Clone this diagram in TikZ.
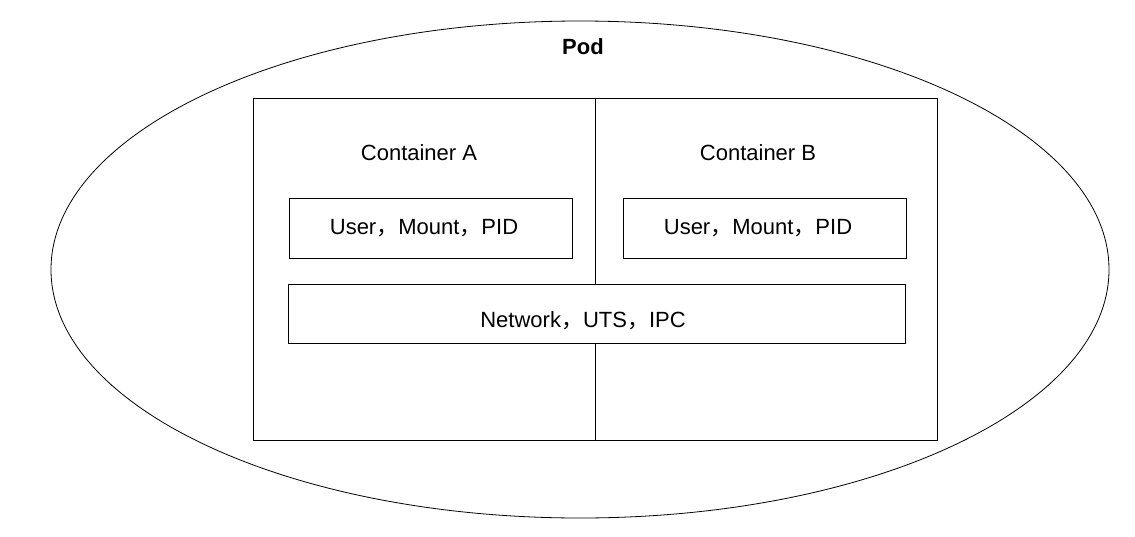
\documentclass[tikz,border=0pt]{standalone}
\usepackage{fontspec}
\setmainfont{Liberation Sans}
\newfontfamily\cjk{Noto Sans CJK SC}
\newcommand{\cm}{{\cjk ，}}
\begin{document}
\begin{tikzpicture}[x=1pt,y=-1pt,
  box/.style={draw=black, line width=0.8pt, fill=white},
  lbl/.style={font=\fontsize{22}{26}\selectfont, inner sep=0pt}]
\useasboundingbox (0,0) rectangle (1135,536);
\draw[line width=0.8pt] (580,269.5) ellipse [x radius=529, y radius=248.5];
\node[lbl, font=\fontsize{22}{26}\selectfont\bfseries] (pod) at (583,47) {Pod};
\draw[line width=0.8pt] (253,98) rectangle (937,440);
\coordinate (dt) at (595,98);
\coordinate (db) at (595,440);
\draw[line width=0.8pt] (dt) -- (db);
\node[lbl] (ca) at (419,153) {Container A};
\node[lbl] (cb) at (758,153) {Container B};
\draw[box] (289,198) rectangle (572,258);
\node[lbl] (ua) at (424,228) {User\cm Mount\cm PID};
\draw[box] (623,198) rectangle (906,258);
\node[lbl] (ub) at (758,228) {User\cm Mount\cm PID};
\draw[box] (288,284) rectangle (905,343);
\node[lbl] (net) at (583,321) {Network\cm UTS\cm IPC};
\end{tikzpicture}
\end{document}
